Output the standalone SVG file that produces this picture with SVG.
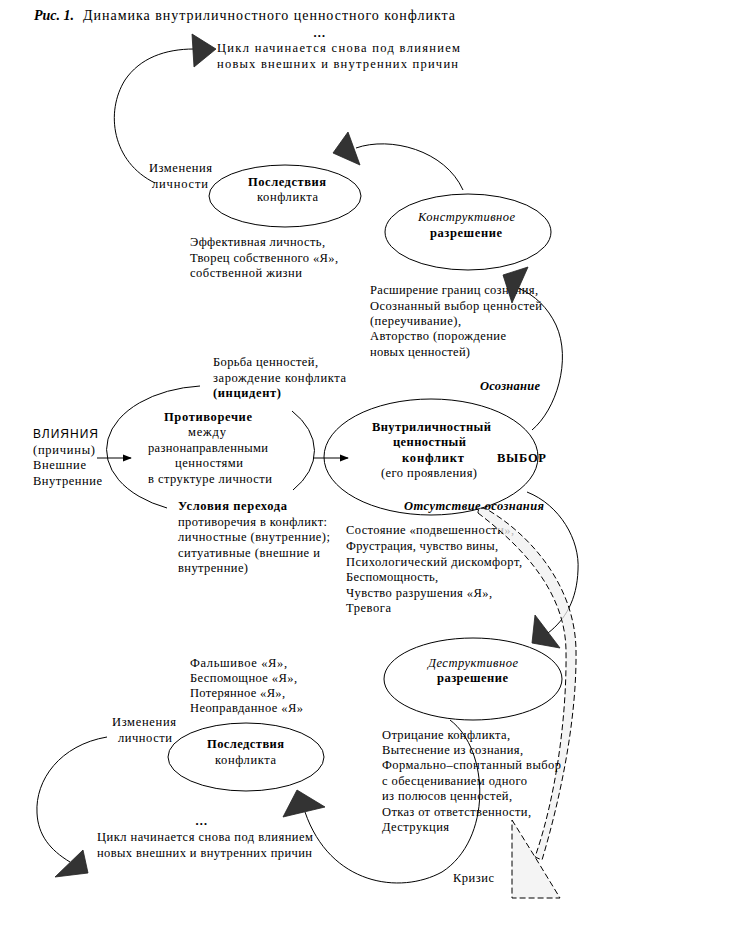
<svg xmlns="http://www.w3.org/2000/svg" width="730" height="926" viewBox="0 0 730 926">
<style>
text{font-family:"Liberation Serif","Times New Roman",serif;font-size:12.5px;fill:#000}
.b{font-weight:bold}
.i{font-style:italic}
.s{font-family:"Liberation Sans",Arial,sans-serif;font-size:12px}
.ttl{font-size:14px}
.e{fill:none;stroke:#000;stroke-width:1}
.c{fill:none;stroke:#000;stroke-width:1}
.h{fill:#333;stroke:#222;stroke-width:0.8}
.d{fill:#f0f0f0;fill-opacity:0.75;stroke:#000;stroke-width:1;stroke-dasharray:6 3}
</style>
<defs>
<marker id="ar" viewBox="0 0 10 10" refX="9" refY="5" markerWidth="9" markerHeight="9" markerUnits="userSpaceOnUse" orient="auto">
<path d="M0,1 L10,5 L0,9 Z" fill="#000"/>
</marker>
</defs>
<rect width="730" height="926" fill="#fff"/>

<g id="title">
<text class="ttl b i" x="34" y="20" textLength="40" lengthAdjust="spacingAndGlyphs">Рис. 1.</text>
<text class="ttl" x="83" y="20" textLength="372">Динамика внутриличностного ценностного конфликта</text>
</g>

<g id="connectors">
<path class="c" d="M194,49 C165,49 140,58 125,80 C105,112 112,162 155,183"/>
<polygon class="h" points="192,34 216,49 194,67"/>
<path class="c" d="M463,190 C445,150 390,136 356,148"/>
<polygon class="h" points="348,132 333,153 360,165"/>
<path class="c" d="M532,430 C556,410 572,360 556,325 C548,308 535,295 518,288"/>
<path class="c" d="M97,458 L131,458" marker-end="url(#ar)"/>
<path class="c" d="M313,458 L348,458" marker-end="url(#ar)"/>
<path class="c" d="M527,492 C560,505 580,540 578,570 C577,600 565,620 548,633"/>
<polygon class="h" points="535,615 532,643 560,648"/>
<path class="c" d="M450,720 C490,750 492,840 442,872 C400,895 330,885 305,812"/>
<polygon class="h" points="283,817 297,790 325,807"/>
<path class="c" d="M107,737 C60,745 35,780 37,813 C38,835 50,850 70,862"/>
<polygon class="h" points="55,877 83,850 88,873"/>
</g>

<g id="node-cycle-top">
<text x="313" y="37" class="b">…</text>
<text x="217" y="52" textLength="243">Цикл начинается снова под влиянием</text>
<text x="217" y="68" textLength="241">новых внешних и внутренних причин</text>
<text x="149" y="172" textLength="63">Изменения</text>
<text x="152" y="188" textLength="56">личности</text>
</g>

<g id="node-consequences-top">
<ellipse class="e" cx="285" cy="196" rx="76" ry="31"/>
<text class="b" x="248" y="186" textLength="78">Последствия</text>
<text x="257" y="201" textLength="61">конфликта</text>
<text x="190" y="246" textLength="135">Эффективная личность,</text>
<text x="190" y="262" textLength="148">Творец собственного «Я»,</text>
<text x="190" y="277" textLength="112">собственной жизни</text>
</g>

<g id="node-constructive">
<ellipse class="e" cx="468" cy="232" rx="83" ry="38"/>
<text class="i" x="418" y="221" textLength="97">Конструктивное</text>
<text class="b" x="430" y="237" textLength="72">разрешение</text>
</g>

<g id="constructive-text">
<text x="370" y="294" textLength="168">Расширение границ сознания,</text>
<text x="370" y="310" textLength="172">Осознанный выбор ценностей</text>
<text x="370" y="325" textLength="91">(переучивание),</text>
<text x="370" y="340" textLength="136">Авторство (порождение</text>
<text x="370" y="356" textLength="100">новых ценностей)</text>
<text class="b i" x="480" y="390" textLength="60">Осознание</text>
</g>
<polygon class="h" points="503,275 528,267 512,303"/>

<g id="node-influences">
<text class="s" x="33" y="438" textLength="65">ВЛИЯНИЯ</text>
<text x="33" y="454" textLength="62">(причины)</text>
<text x="33" y="469" textLength="53">Внешние</text>
<text x="33" y="485" textLength="69">Внутренние</text>
</g>

<g id="node-contradiction">
<path class="c" d="M292,411 A103,64 0 0 1 293,490"/>
<path class="c" d="M167,508 A103,64 0 0 1 200,386"/>
<text class="b" x="164" y="421" textLength="88">Противоречие</text>
<text x="188" y="436" textLength="38">между</text>
<text x="148" y="452" textLength="120">разнонаправленными</text>
<text x="175" y="467" textLength="68">ценностями</text>
<text x="148" y="483" textLength="124">в структуре личности</text>
<text x="213" y="366" textLength="105">Борьба ценностей,</text>
<text x="213" y="382" textLength="133">зарождение конфликта</text>
<text class="b" x="213" y="397" textLength="68">(инцидент)</text>
<text class="b" x="178" y="510" textLength="109">Условия перехода</text>
<text x="178" y="526" textLength="149">противоречия в конфликт:</text>
<text x="178" y="541" textLength="152">личностные (внутренние);</text>
<text x="178" y="557" textLength="142">ситуативные (внешние и</text>
<text x="178" y="572" textLength="70">внутренние)</text>
</g>

<g id="node-conflict">
<ellipse class="e" cx="431" cy="457" rx="107" ry="58"/>
<text class="b" x="372" y="431" textLength="119">Внутриличностный</text>
<text class="b" x="393" y="446" textLength="73">ценностный</text>
<text class="b" x="402" y="462" textLength="62">конфликт</text>
<text x="381" y="477" textLength="96">(его проявления)</text>
<text class="b" x="497" y="462" textLength="49">ВЫБОР</text>
<text class="b i" x="404" y="510" textLength="140">Отсутствие осознания</text>
</g>

<g id="conflict-text">
<text x="346" y="534" textLength="168">Состояние «подвешенности»,</text>
<text x="346" y="550" textLength="152">Фрустрация, чувство вины,</text>
<text x="346" y="566" textLength="176">Психологический дискомфорт,</text>
<text x="346" y="581" textLength="92">Беспомощность,</text>
<text x="346" y="597" textLength="146">Чувство разрушения «Я»,</text>
<text x="346" y="612" textLength="45">Тревога</text>
</g>

<g id="crisis-arrow">
<path class="d" d="M478,513 C520,545 565,590 566,650 C567,720 555,800 535,857 L542,860 C560,800 577,720 576,650 C575,585 530,535 488,510 Q478,505 478,513 Z"/>
<polygon class="d" points="512,820 535,857 560,898 512,898"/>
<text x="453" y="882" textLength="41">Кризис</text>
</g>

<g id="node-destructive">
<ellipse class="e" cx="473" cy="679" rx="89" ry="41"/>
<text class="i" x="428" y="667" textLength="90">Деструктивное</text>
<text class="b" x="437" y="682" textLength="71">разрешение</text>
</g>

<g id="destructive-text">
<text x="382" y="739" textLength="128">Отрицание конфликта,</text>
<text x="382" y="754" textLength="141">Вытеснение из сознания,</text>
<text x="382" y="769" textLength="179">Формально–спонтанный выбор</text>
<text x="382" y="785" textLength="145">с обесцениванием одного</text>
<text x="382" y="800" textLength="130">из полюсов ценностей,</text>
<text x="382" y="816" textLength="149">Отказ от ответственности,</text>
<text x="382" y="831" textLength="67">Деструкция</text>
</g>

<g id="node-consequences-bottom">
<text x="190" y="667" textLength="97">Фальшивое «Я»,</text>
<text x="190" y="682" textLength="107">Беспомощное «Я»,</text>
<text x="190" y="697" textLength="95">Потерянное «Я»,</text>
<text x="190" y="712" textLength="113">Неоправданное «Я»</text>
<text x="112" y="726" textLength="64">Изменения</text>
<text x="118" y="742" textLength="54">личности</text>
<ellipse class="e" cx="246" cy="757" rx="78" ry="34"/>
<text class="b" x="207" y="748" textLength="77">Последствия</text>
<text x="215" y="764" textLength="61">конфликта</text>
</g>

<g id="node-cycle-bottom">
<text x="195" y="825" class="b">…</text>
<text x="97" y="841" textLength="216">Цикл начинается снова под влиянием</text>
<text x="97" y="857" textLength="215">новых внешних и внутренних причин</text>
</g>
</svg>
